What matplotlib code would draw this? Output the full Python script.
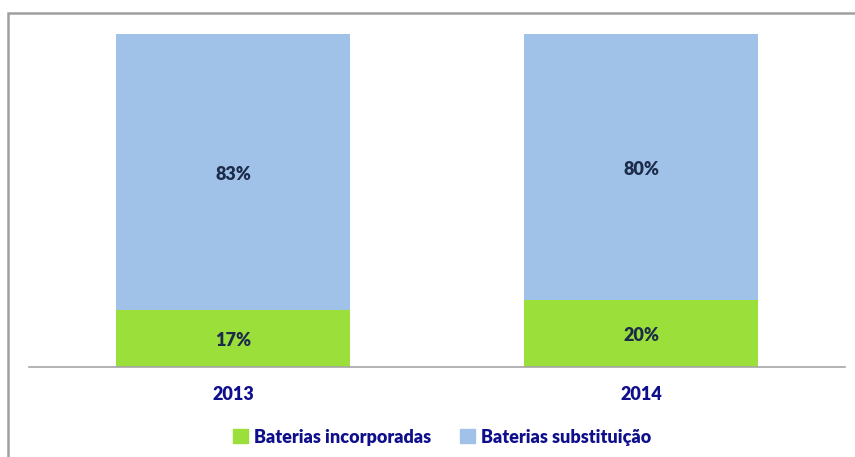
import matplotlib
matplotlib.use("Agg")
import matplotlib.pyplot as plt
from matplotlib.patches import Rectangle, Patch

# data
years = ["2013", "2014"]
incorporadas = [17, 20]
substituicao = [83, 80]
series_names = ["Baterias incorporadas", "Baterias substituição"]

green = "#9ADF3A"
blue = "#A0C2E8"
navy = "#0F0F8C"
dark = "#1C2B4A"

plt.rcParams['font.family'] = ['Lato', 'DejaVu Sans']

fig = plt.figure(figsize=(8.55, 4.57), dpi=100)
ax = fig.add_axes([29 / 855, 1 - 367 / 457, (845 - 29) / 855, (367 - 34) / 457])

x = list(range(len(years)))
w = 0.574
ax.bar(x, incorporadas, w, color=green, label=series_names[0], zorder=2)
ax.bar(x, substituicao, w, bottom=incorporadas, color=blue, label=series_names[1], zorder=2)

for i in x:
    ax.text(i, incorporadas[i] / 2 - 0.6, f"{incorporadas[i]}%", ha="center", va="center",
            fontsize=13, fontweight="heavy", color=dark)
    ax.text(i, incorporadas[i] + substituicao[i] / 2 - 0.8, f"{substituicao[i]}%", ha="center",
            va="center", fontsize=13, fontweight="heavy", color=dark)

ax.set_xlim(-0.5, 1.5)
ax.set_ylim(0, 100)
ax.set_xticks(x)
ax.set_xticklabels(years, fontsize=13, fontweight="heavy", color=navy)
ax.tick_params(axis="x", length=0, pad=14)
ax.set_yticks([])
for s in ["top", "left", "right"]:
    ax.spines[s].set_visible(False)
ax.spines["bottom"].set_color("#A6A6A6")
ax.spines["bottom"].set_linewidth(1.2)

handles = [Patch(color=green), Patch(color=blue)]
leg = fig.legend(handles, series_names, loc="center", bbox_to_anchor=(442 / 855, 1 - 437 / 457),
                 ncol=2, frameon=False, handlelength=0.85, handleheight=0.85, handletextpad=0.3,
                 columnspacing=1.6, prop={"size": 13, "weight": "heavy"})
for t in leg.get_texts():
    t.set_color(navy)

# outer frame
fig.patches.append(Rectangle((8 / 855, -0.05), 1.0, 1 - 13 / 457 + 0.05, transform=fig.transFigure,
                             fill=False, edgecolor="#A0A0A0", linewidth=1.8))

fig.savefig("out.png", dpi=100)
